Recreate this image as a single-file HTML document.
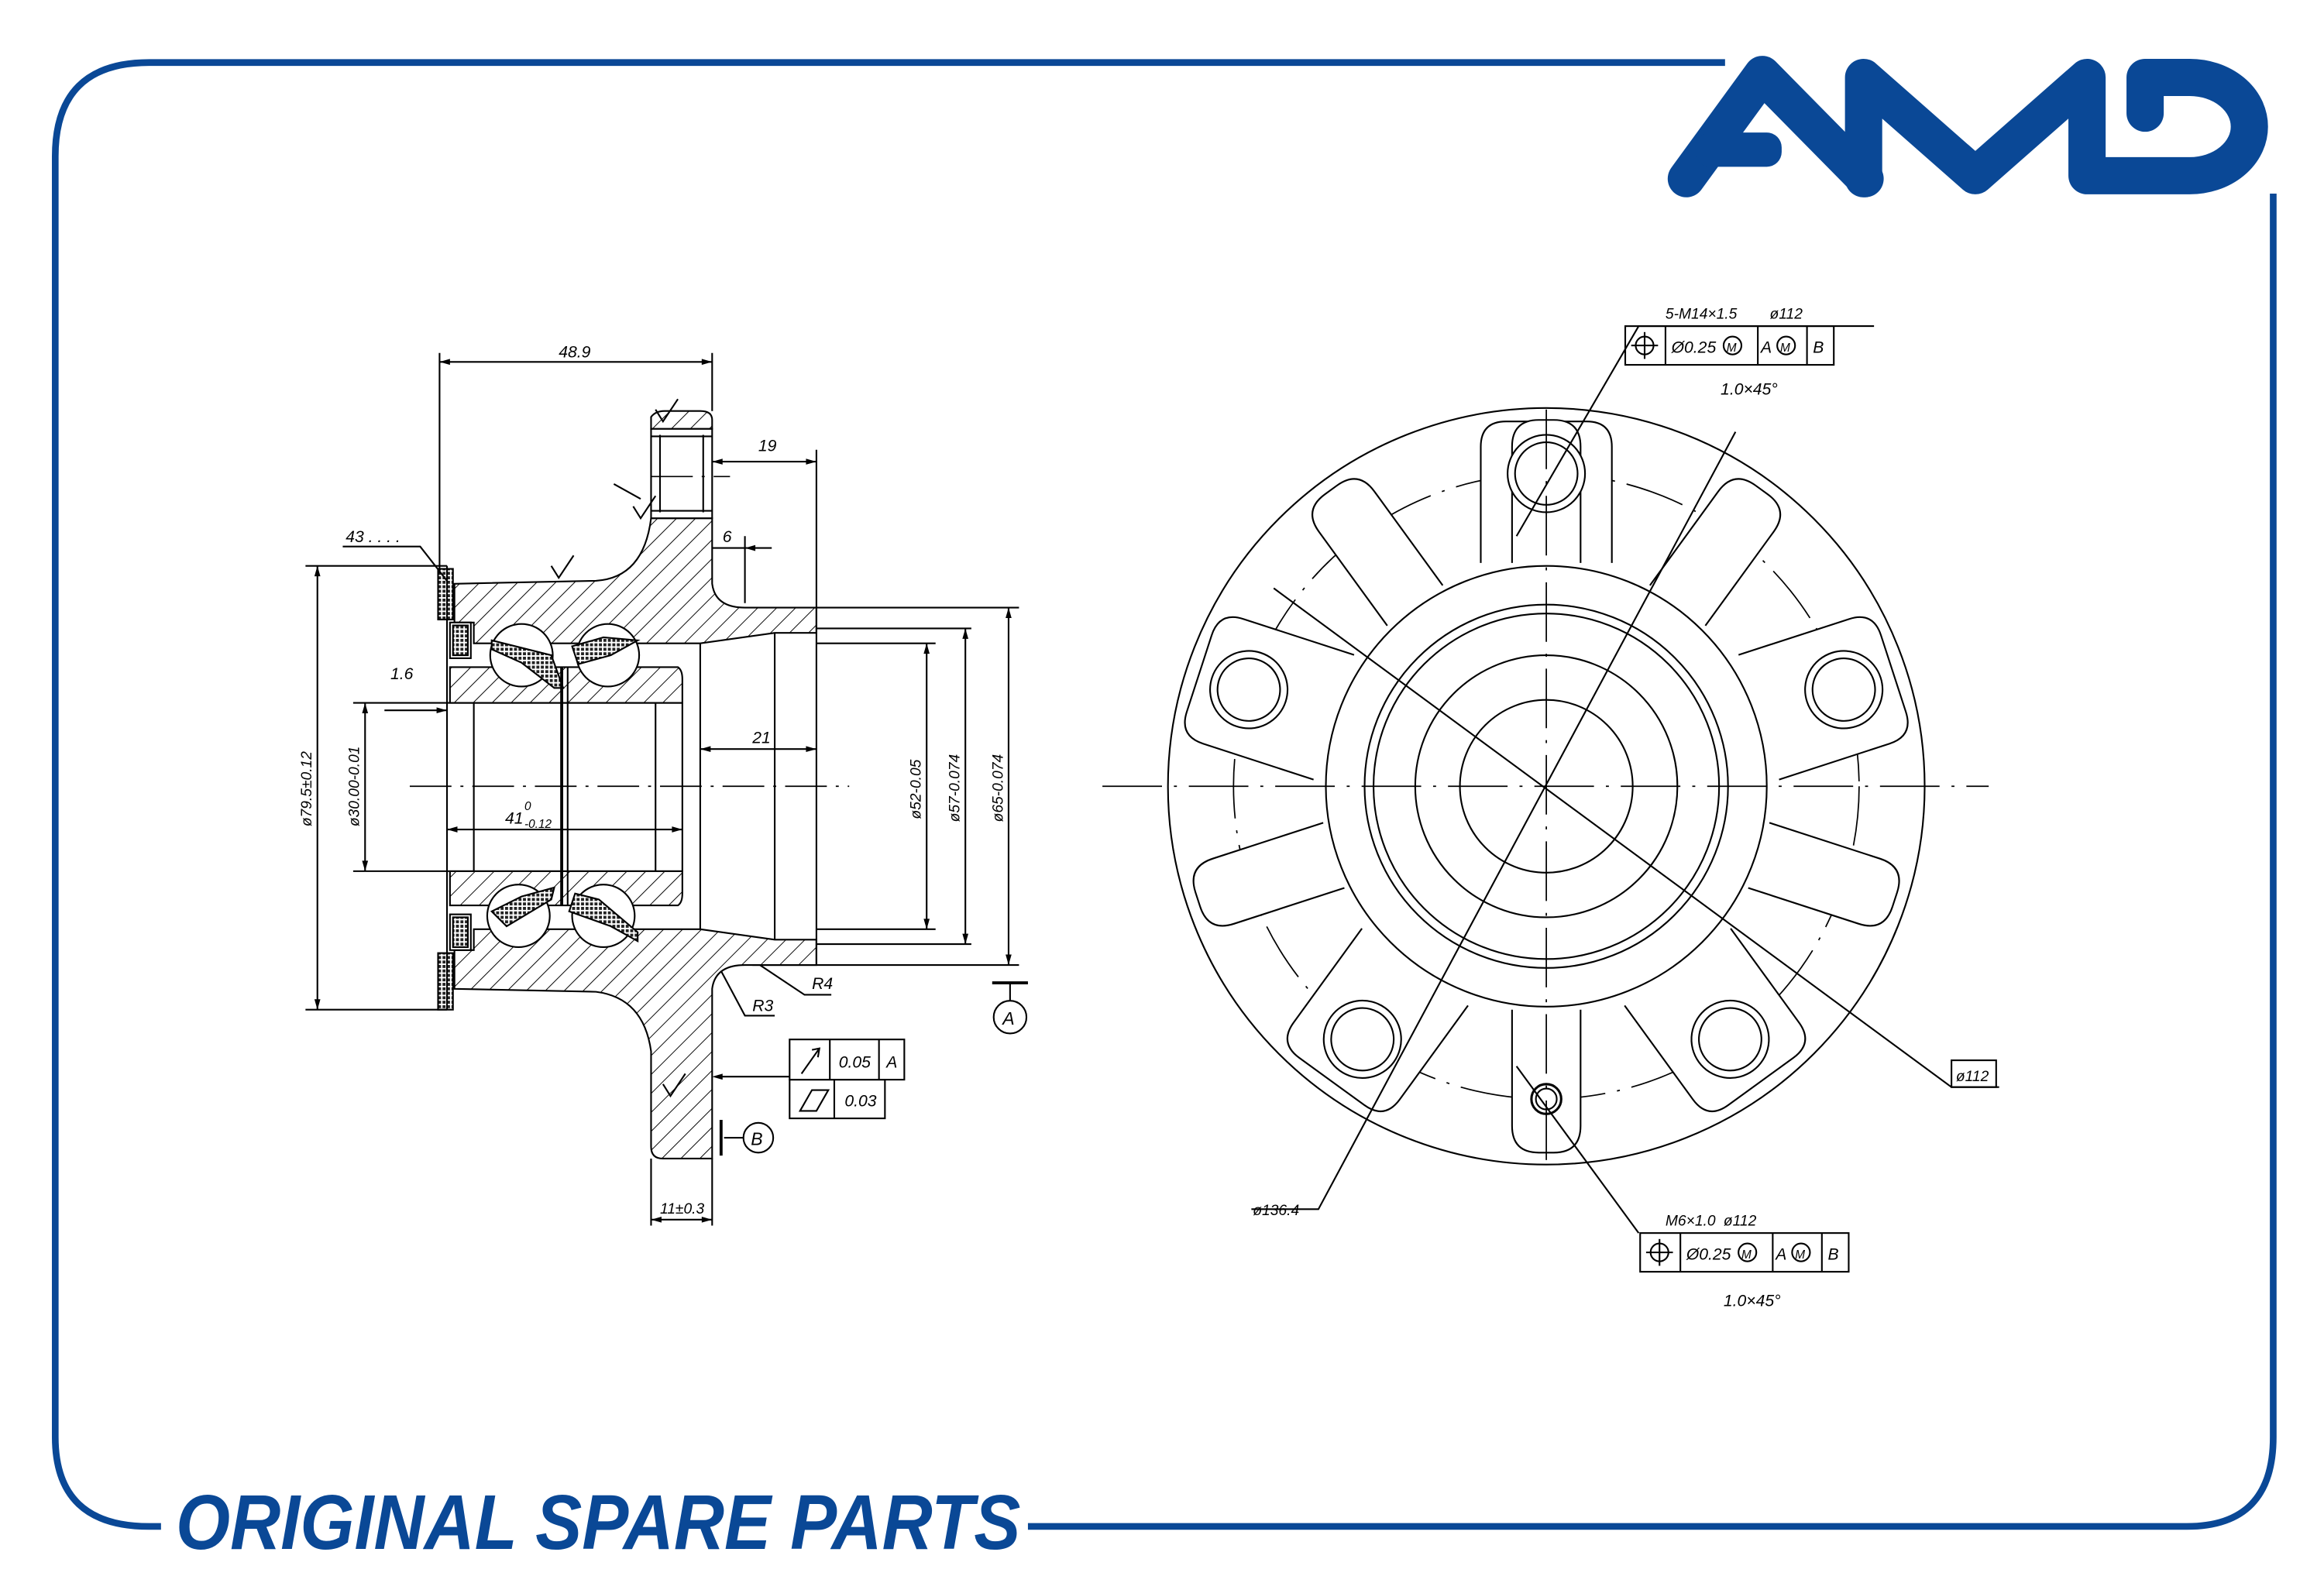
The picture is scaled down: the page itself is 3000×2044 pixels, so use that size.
<!DOCTYPE html>
<html><head><meta charset="utf-8"><style>
html,body{margin:0;padding:0;background:#fff;}
svg{display:block;}
text{font-family:"Liberation Sans",sans-serif;font-style:italic;fill:#000;}
</style></head><body>
<svg width="3000" height="2044" viewBox="0 0 1560 1063" xmlns="http://www.w3.org/2000/svg">
<defs>
<pattern id="h" patternUnits="userSpaceOnUse" width="9" height="9" patternTransform="rotate(45)">
<line x1="0" y1="0" x2="0" y2="9" stroke="#000" stroke-width="1"/>
</pattern>
<pattern id="x" patternUnits="userSpaceOnUse" width="3" height="3">
<rect width="3" height="3" fill="#fff"/><rect width="2" height="2" fill="#222"/>
</pattern>
</defs>
<rect width="1560" height="1063" fill="#fff"/>

<!-- Border -->
<g fill="none" stroke="#0a4896" stroke-width="4.5">
<path d="M1158,42 H100 Q37,42 37,105 V965 Q37,1025 100,1025 H108"/>
<path d="M690,1025 H1468 Q1526,1025 1526,965 V130"/>
</g>
<text x="118" y="1040" font-size="52" font-weight="bold" textLength="567" lengthAdjust="spacingAndGlyphs" style="fill:#0a4896;font-family:'Liberation Sans Narrow','Liberation Sans',sans-serif;font-style:italic;font-weight:bold">ORIGINAL SPARE PARTS</text>

<!-- Logo -->
<g fill="none" stroke="#0a4896" stroke-width="25" stroke-linecap="round" stroke-linejoin="round">
<path d="M1132,120 L1183,50 L1252,120"/>
<path d="M1251,120 V52 L1326,118 L1401,52 V118 H1470 A40,33 0 0 0 1470,52 H1440 V76"/>
</g>
<rect x="1138" y="89" width="58" height="23" rx="10" fill="#0a4896"/>

<!-- ============ LEFT DRAWING ============ -->
<g stroke="#000" stroke-width="1.1" fill="none">
<!-- hatched sections -->
<path d="M305,392 L400,390 Q432,388 437,348 L478,348 L478,392 Q480,408 500,408 L548,408 L548,425 L520,425 L470,432 L318,432 L318,418 L305,418 Z" fill="url(#h)"/>
<path d="M305,664 L400,666 Q432,670 437,706 L437,770 Q437,778 445,778 L478,778 L478,664 Q480,648 500,648 L548,648 L548,631 L520,631 L470,624 L318,624 L318,638 L305,638 Z" fill="url(#h)"/>
<path d="M302,448 L455,448 Q458,450 458,456 L458,472 L302,472 Z" fill="url(#h)"/>
<path d="M302,608 L455,608 Q458,606 458,600 L458,585 L302,585 Z" fill="url(#h)"/>
<path d="M437,288 L437,280 Q440,276 446,276 L470,276 Q478,276 478,282 L478,288 Z" fill="url(#h)"/>
<!-- stud hole -->
<rect x="437" y="288" width="41" height="60" fill="#fff"/>
<line x1="443" y1="292" x2="443" y2="344"/><line x1="472" y1="292" x2="472" y2="344"/>
<line x1="437" y1="293" x2="478" y2="293"/><line x1="437" y1="343" x2="478" y2="343"/>
<!-- balls -->
<circle cx="350" cy="440" r="21" fill="#fff"/><circle cx="408" cy="440" r="21" fill="#fff"/>
<circle cx="348" cy="615" r="21" fill="#fff"/><circle cx="405" cy="615" r="21" fill="#fff"/>
<path d="M330,430 L370,440 L378,462 L372,462 L350,445 L330,436 Z" fill="url(#x)"/>
<path d="M382,612 L410,622 L428,632 L428,626 L402,604 L386,600 Z" fill="url(#x)"/>
<path d="M330,612 L350,602 L372,596 L370,604 L340,622 Z" fill="url(#x)"/>
<path d="M384,434 L405,428 L428,430 L410,440 L388,446 Z" fill="url(#x)"/>
<!-- seals -->
<rect x="294" y="382" width="10" height="34" fill="url(#x)"/>
<rect x="294" y="640" width="10" height="38" fill="url(#x)"/>
<rect x="302" y="418" width="14" height="24" fill="#fff"/>
<rect x="302" y="614" width="14" height="24" fill="#fff"/>
<path d="M304,420 h10 v20 h-10z M304,616 h10 v20 h-10z" fill="url(#x)"/>
<!-- lines -->
<line x1="300" y1="380" x2="300" y2="678"/>
<line x1="318" y1="472" x2="318" y2="585"/>
<line x1="377" y1="448" x2="377" y2="608" stroke-width="2"/>
<line x1="381" y1="448" x2="381" y2="608"/>
<line x1="440" y1="472" x2="440" y2="585"/>
<line x1="458" y1="472" x2="458" y2="585"/>
<line x1="470" y1="432" x2="470" y2="624"/>
<line x1="520" y1="425" x2="520" y2="631"/>
<line x1="548" y1="408" x2="548" y2="648"/>
<line x1="302" y1="472" x2="458" y2="472"/>
<line x1="302" y1="585" x2="458" y2="585"/>
<line x1="275" y1="528" x2="570" y2="528" stroke-dasharray="28,6,2,6" stroke-width="0.9"/>
<line x1="437" y1="320" x2="490" y2="320" stroke-dasharray="28,6,2,6" stroke-width="0.9"/>
<!-- extension lines -->
<line x1="295" y1="237" x2="295" y2="385"/>
<line x1="478" y1="237" x2="478" y2="276"/>
<line x1="478" y1="778" x2="478" y2="823"/>
<line x1="437" y1="778" x2="437" y2="823"/>
<line x1="548" y1="302" x2="548" y2="408"/>
<line x1="500" y1="360" x2="500" y2="405"/>
<line x1="548" y1="408" x2="684" y2="408"/>
<line x1="548" y1="422" x2="652" y2="422"/>
<line x1="548" y1="432" x2="628" y2="432"/>
<line x1="548" y1="624" x2="628" y2="624"/>
<line x1="548" y1="634" x2="652" y2="634"/>
<line x1="505" y1="648" x2="684" y2="648"/>
<line x1="205" y1="380" x2="300" y2="380"/>
<line x1="205" y1="678" x2="300" y2="678"/>
<line x1="237" y1="472" x2="302" y2="472"/>
<line x1="237" y1="585" x2="302" y2="585"/>
<!-- dimension lines -->
<line x1="295" y1="243" x2="478" y2="243"/>
<line x1="478" y1="310" x2="548" y2="310"/>
<line x1="478" y1="368" x2="518" y2="368"/>
<line x1="470" y1="503" x2="548" y2="503"/>
<line x1="300" y1="557" x2="458" y2="557"/>
<line x1="213" y1="380" x2="213" y2="678"/>
<line x1="245" y1="472" x2="245" y2="585"/>
<line x1="622" y1="432" x2="622" y2="624"/>
<line x1="648" y1="422" x2="648" y2="634"/>
<line x1="677" y1="408" x2="677" y2="648"/>
<line x1="437" y1="819" x2="478" y2="819"/>
<line x1="258" y1="477" x2="300" y2="477"/>
<path d="M230,367 H282 L300,390"/>
<path d="M484,652 L500,682 H520"/>
<path d="M510,648 L540,668 H558"/>
<!-- FCF -->
<rect x="530" y="698" width="77" height="27"/>
<line x1="557" y1="698" x2="557" y2="725"/><line x1="590" y1="698" x2="590" y2="725"/>
<rect x="530" y="725" width="64" height="26"/>
<line x1="560" y1="725" x2="560" y2="751"/>
<line x1="480" y1="723" x2="530" y2="723"/>
<path d="M538,721 L550,704 M545,705 L550,704 L549,710"/>
<path d="M537,746 L545,732 L556,732 L548,746 Z"/>
<!-- datums -->
<circle cx="509" cy="764" r="10"/><line x1="486" y1="764" x2="499" y2="764"/><line x1="484" y1="752" x2="484" y2="776" stroke-width="2"/>
<circle cx="678" cy="683" r="11"/><line x1="678" y1="660" x2="678" y2="672"/><line x1="666" y1="660" x2="690" y2="660" stroke-width="2"/>
<!-- surface marks -->
<path d="M440,275 l5,8 l10,-15 M370,380 l5,8 l10,-15 M412,325 l18,10 M425,340 l5,8 l10,-15 M445,728 l5,8 l10,-15"/>
</g>
<g fill="#000">
<path d="M295,243 l7,-2 v4z M478,243 l-7,-2 v4z M478,310 l7,-2 v4z M548,310 l-7,-2 v4z M500,368 l7,-2 v4z M470,503 l7,-2 v4z M548,503 l-7,-2 v4z M300,557 l7,-2 v4z M458,557 l-7,-2 v4z M213,380 l-2,7 h4z M213,678 l-2,-7 h4z M245,472 l-2,7 h4z M245,585 l-2,-7 h4z M622,432 l-2,7 h4z M622,624 l-2,-7 h4z M648,422 l-2,7 h4z M648,634 l-2,-7 h4z M677,408 l-2,7 h4z M677,648 l-2,-7 h4z M437,819 l7,-2 v4z M478,819 l-7,-2 v4z M300,477 l-7,-2 v4z M478,723 l7,-2 v4z"/>
</g>
<g font-size="11">
<text x="375" y="240">48.9</text>
<text x="509" y="303">19</text>
<text x="485" y="364">6</text>
<text x="505" y="499">21</text>
<text x="339" y="553">41</text><text x="352" y="556" font-size="8">-0.12</text><text x="352" y="544" font-size="8">0</text>
<text x="262" y="456">1.6</text>
<text x="232" y="364">43 . . . .</text>
<text x="505" y="679">R3</text>
<text x="545" y="664">R4</text>
<text x="443" y="815" font-size="10">11±0.3</text>
<text x="563" y="717">0.05</text><text x="595" y="717">A</text>
<text x="567" y="743">0.03</text>
<text x="504" y="769" font-size="12">B</text>
<text x="673" y="688" font-size="12">A</text>
<text transform="translate(209,555) rotate(-90)" font-size="10">ø79.5±0.12</text>
<text transform="translate(241,555) rotate(-90)" font-size="10">ø30.00-0.01</text>
<text transform="translate(618,550) rotate(-90)" font-size="10">ø52-0.05</text>
<text transform="translate(644,552) rotate(-90)" font-size="10">ø57-0.074</text>
<text transform="translate(673,552) rotate(-90)" font-size="10">ø65-0.074</text>
</g>

<!-- ============ RIGHT DRAWING ============ -->
<g stroke="#000" stroke-width="1.1" fill="none">
<circle cx="1038" cy="528" r="254"/>
<circle cx="1038" cy="528" r="210" stroke-dasharray="40,8,2,8" stroke-width="0.9"/>
<g transform="translate(1038,528)">
<g id="boss"><path d="M-44,-150 L-44,-228 Q-44,-245 -27,-245 L27,-245 Q44,-245 44,-228 L44,-150" fill="#fff"/></g>
<use href="#boss" transform="rotate(72)"/><use href="#boss" transform="rotate(144)"/><use href="#boss" transform="rotate(216)"/><use href="#boss" transform="rotate(288)"/>
<g id="rib"><path d="M-23,-150 L-23,-228 Q-23,-246 -5,-246 L5,-246 Q23,-246 23,-228 L23,-150" fill="#fff"/></g>
<use href="#rib" transform="rotate(36)"/><use href="#rib" transform="rotate(108)"/><use href="#rib" transform="rotate(180)"/><use href="#rib" transform="rotate(252)"/><use href="#rib" transform="rotate(324)"/>
<circle r="148" fill="#fff"/><circle r="122"/><circle r="116"/><circle r="88"/><circle r="58"/>
<g id="hole"><circle cx="0" cy="-210" r="26" fill="#fff"/><circle cx="0" cy="-210" r="21"/></g>
<use href="#hole" transform="rotate(72)"/><use href="#hole" transform="rotate(144)"/><use href="#hole" transform="rotate(216)"/><use href="#hole" transform="rotate(288)"/>
<circle cx="0" cy="210" r="10" fill="#fff" stroke-width="1.6"/><circle cx="0" cy="210" r="7"/>
</g>
<line x1="740" y1="528" x2="1335" y2="528" stroke-dasharray="40,8,2,8" stroke-width="0.9"/>
<line x1="1038" y1="275" x2="1038" y2="783" stroke-dasharray="40,8,2,8" stroke-width="0.9"/>
<!-- leaders -->
<path d="M1018,360 L1100,219 H1258"/>
<path d="M1165,290 L885,812 H840"/>
<path d="M855,395 L1310,730 H1342"/>
<path d="M1018,716 L1100,828"/>
<!-- top FCF -->
<rect x="1091" y="219" width="140" height="26"/>
<line x1="1118" y1="219" x2="1118" y2="245"/><line x1="1180" y1="219" x2="1180" y2="245"/><line x1="1213" y1="219" x2="1213" y2="245"/>
<circle cx="1104" cy="232" r="6"/><line x1="1104" y1="223" x2="1104" y2="241"/><line x1="1095" y1="232" x2="1113" y2="232"/>
<circle cx="1163" cy="232" r="6"/><circle cx="1199" cy="232" r="6"/>
<!-- bottom FCF -->
<rect x="1101" y="828" width="140" height="26"/>
<line x1="1128" y1="828" x2="1128" y2="854"/><line x1="1190" y1="828" x2="1190" y2="854"/><line x1="1223" y1="828" x2="1223" y2="854"/>
<circle cx="1114" cy="841" r="6"/><line x1="1114" y1="832" x2="1114" y2="850"/><line x1="1105" y1="841" x2="1123" y2="841"/>
<circle cx="1173" cy="841" r="6"/><circle cx="1209" cy="841" r="6"/>
<rect x="1310" y="712" width="30" height="18"/>
</g>
<g font-size="11">
<text x="1118" y="214" font-size="10">5-M14×1.5</text><text x="1188" y="214" font-size="10">ø112</text>
<text x="1122" y="237" font-size="11">Ø0.25</text><text x="1159" y="236" font-size="8">M</text>
<text x="1182" y="237">A</text><text x="1195" y="236" font-size="8">M</text><text x="1217" y="237">B</text>
<text x="1155" y="265">1.0×45°</text>
<text x="1118" y="823" font-size="10">M6×1.0</text><text x="1157" y="823" font-size="10">ø112</text>
<text x="1132" y="846">Ø0.25</text><text x="1169" y="845" font-size="8">M</text>
<text x="1192" y="846">A</text><text x="1205" y="845" font-size="8">M</text><text x="1227" y="846">B</text>
<text x="1157" y="877">1.0×45°</text>
<text x="1313" y="726" font-size="10">ø112</text>
<text x="841" y="816" font-size="10">ø136.4</text>
</g>
</svg>
</body></html>
